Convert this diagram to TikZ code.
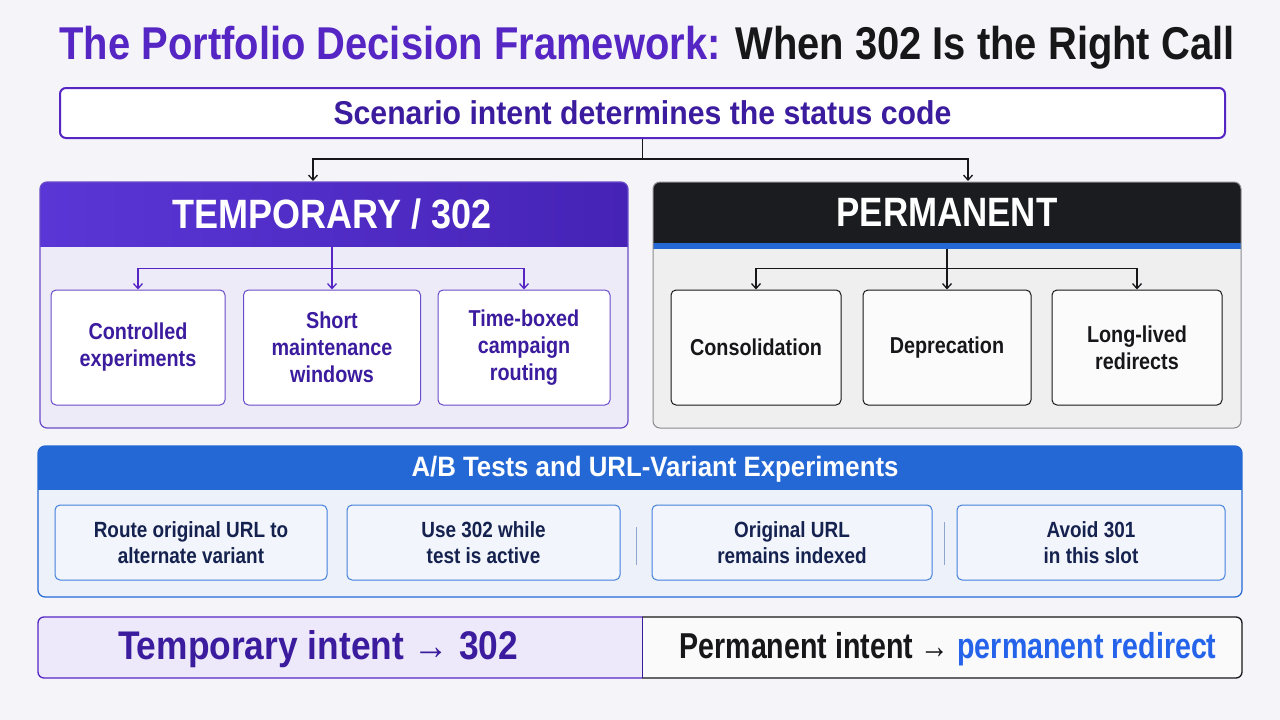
\documentclass[tikz,border=0pt]{standalone}
\usepackage{fontspec}
\usepackage{graphicx}
\setmainfont{Liberation Sans}[FakeStretch=0.86]
\usetikzlibrary{arrows.meta}
\definecolor{bg}{HTML}{F5F5F9}
\definecolor{purp}{HTML}{5626C4}
\definecolor{dpurp}{HTML}{3C1C9E}
\definecolor{hpurpA}{HTML}{5A36D6}
\definecolor{hpurpB}{HTML}{4623B6}
\definecolor{lav}{HTML}{EEEBF8}
\definecolor{lavbar}{HTML}{EDE9FA}
\definecolor{pborder}{HTML}{6A4BC9}
\definecolor{dark}{HTML}{1B1C20}
\definecolor{abblue}{HTML}{2468D6}
\definecolor{lgray}{HTML}{EFEFF0}
\definecolor{gborder}{HTML}{8A8A8E}
\definecolor{navy}{HTML}{15224F}
\definecolor{lblue}{HTML}{ECF1FA}
\definecolor{bboxfill}{HTML}{F2F5FB}
\definecolor{rblue}{HTML}{2563EB}
\definecolor{tblack}{HTML}{17171A}
\definecolor{sepc}{HTML}{8FA6CF}
\newlength\fitlen
\newcommand\fitx[2]{\settowidth\fitlen{#2}\pgfmathsetmacro\fitf{#1/\fitlen}\scalebox{\fitf}[1]{#2}}
\newcommand\fs[2]{\fontsize{#1}{#2}\selectfont}
\tikzset{
  tbox/.style={draw=pborder, fill=white, line width=1pt, rounded corners=5pt, minimum height=115pt, align=center, text=dpurp, font=\fs{23}{27}\bfseries},
  kbox/.style={draw=tblack, fill=white!97!gray, line width=1pt, rounded corners=5pt, minimum height=115pt, align=center, text=tblack, font=\fs{23}{27}\bfseries},
  abbox/.style={draw=abblue!85, fill=bboxfill, line width=1pt, rounded corners=5pt, minimum height=75pt, align=center, text=navy, font=\fs{22}{26}\bfseries},
  kline/.style={line width=1.3pt, draw=tblack},
  karr/.style={kline, -{Straight Barb[length=5pt,width=9pt]}},
  pline/.style={line width=1.3pt, draw=purp},
  parr/.style={pline, -{Straight Barb[length=5pt,width=9pt]}},
  sepline/.style={line width=0.8pt, draw=sepc}
}
\begin{document}
\begin{tikzpicture}[x=1pt,y=-1pt]
\fill[bg] (0,0) rectangle (1280,720);
\useasboundingbox (0,0) rectangle (1280,720);

% title
\node[inner sep=0] (title) at (647,48) {\fs{46}{50}\bfseries\fitx{1175}{\textcolor{purp}{The Portfolio Decision Framework:} \textcolor{tblack}{When 302 Is the Right Call}}};

% scenario box
\node[draw=purp, fill=white, line width=2pt, rounded corners=6pt, minimum width=1165pt, minimum height=50pt] (scen) at (642.5,113) {\fs{33}{36}\bfseries\color{dpurp}\fitx{618}{Scenario intent determines the status code}};

% left panel
\begin{scope}
  \clip[rounded corners=7pt] (40,182) rectangle (628,428);
  \fill[lav] (40,182) rectangle (628,428);
  \shade[left color=hpurpA, right color=hpurpB] (40,182) rectangle (628,246);
\end{scope}
\draw[pborder, line width=1.2pt, rounded corners=7pt] (40,182) rectangle (628,428);
\node[minimum width=588pt, minimum height=64pt, inner sep=0] (thead) at (332,214) {\fs{41}{44}\bfseries\color{white}\fitx{319}{TEMPORARY / 302}};

\node[tbox, minimum width=174pt] (t1) at (138,347.5) {Controlled\\experiments};
\node[tbox, minimum width=177pt] (t2) at (332,347.5) {Short\\maintenance\\windows};
\node[tbox, minimum width=172pt] (t3) at (524,347.5) {Time-boxed\\campaign\\routing};

\draw[pline] (thead.south) -- ++(0,22) coordinate (tj);
\draw[parr] (tj) -| (t1.north);
\draw[parr] (tj) -| (t3.north);
\draw[parr] (tj) -- (t2.north);

% right panel
\begin{scope}
  \clip[rounded corners=7pt] (653,182) rectangle (1241,428);
  \fill[lgray] (653,182) rectangle (1241,428);
  \fill[dark] (653,182) rectangle (1241,243);
  \fill[abblue] (653,243) rectangle (1241,249);
\end{scope}
\draw[gborder, line width=1pt, rounded corners=7pt] (653,182) rectangle (1241,428);
\node[minimum width=588pt, minimum height=61pt, inner sep=0] (phead) at (947,212.5) {\fs{41}{44}\bfseries\color{white}\fitx{221}{PERMANENT}};
\path (phead.south) ++(0,6) coordinate (pfoot);

\node[kbox, minimum width=170pt] (p1) at (756,347.5) {Consolidation};
\node[kbox, minimum width=168pt] (p2) at (947,347.5) {Deprecation};
\node[kbox, minimum width=170pt] (p3) at (1137,347.5) {Long-lived\\redirects};

\draw[kline] (pfoot) -- ++(0,19) coordinate (pj);
\draw[karr] (pj) -| (p1.north);
\draw[karr] (pj) -| (p3.north);
\draw[karr] (pj) -- (p2.north);

% top connectors
\coordinate (lin) at (313,181);
\coordinate (rin) at (968,181);
\draw[kline] (scen.south) -- ++(0,20) coordinate (sj);
\draw[karr] (sj) -| (lin);
\draw[karr] (sj) -| (rin);

% A/B section
\begin{scope}
  \clip[rounded corners=7pt] (38,446) rectangle (1242,597);
  \fill[lblue] (38,446) rectangle (1242,597);
  \fill[abblue] (38,446) rectangle (1242,490);
\end{scope}
\draw[abblue, line width=1.2pt, rounded corners=7pt] (38,446) rectangle (1242,597);
\node[inner sep=0] (abhead) at (655,469) {\fs{28}{30}\bfseries\color{white}\fitx{487}{A/B Tests and URL-Variant Experiments}};

\node[abbox, minimum width=272pt] (b1) at (191,542.5) {Route original URL to\\alternate variant};
\node[abbox, minimum width=273pt] (b2) at (483.5,542.5) {Use 302 while\\test is active};
\node[abbox, minimum width=280pt] (b3) at (792,542.5) {Original URL\\remains indexed};
\node[abbox, minimum width=268pt] (b4) at (1091,542.5) {Avoid 301\\in this slot};
\draw[sepline] (636,527) -- (636,565);
\draw[sepline] (944,522) -- (944,565);

% bottom bar
\begin{scope}
  \clip[rounded corners=6pt] (38,617) rectangle (1242,678);
  \fill[lavbar] (38,617) rectangle (642,678);
  \fill[white!96!gray] (642,617) rectangle (1242,678);
\end{scope}
\draw[tblack, line width=1.3pt, rounded corners=6pt] (642,617) -- (1242,617) -- (1242,678) -- (642,678);
\draw[purp, line width=1.3pt, rounded corners=6pt] (642,617) -- (38,617) -- (38,678) -- (642,678);
\draw[dpurp, line width=0.6pt] (642,617) -- (642,678);
\node[inner sep=0] (tint) at (318,649) {\fs{40}{44}\bfseries\color{dpurp}\fitx{400}{Temporary intent → 302}};
\node[inner sep=0] (pint) at (948,649) {\fs{36}{40}\bfseries\fitx{537}{\color{tblack}Permanent intent → \color{rblue}permanent redirect}};
\end{tikzpicture}
\end{document}
